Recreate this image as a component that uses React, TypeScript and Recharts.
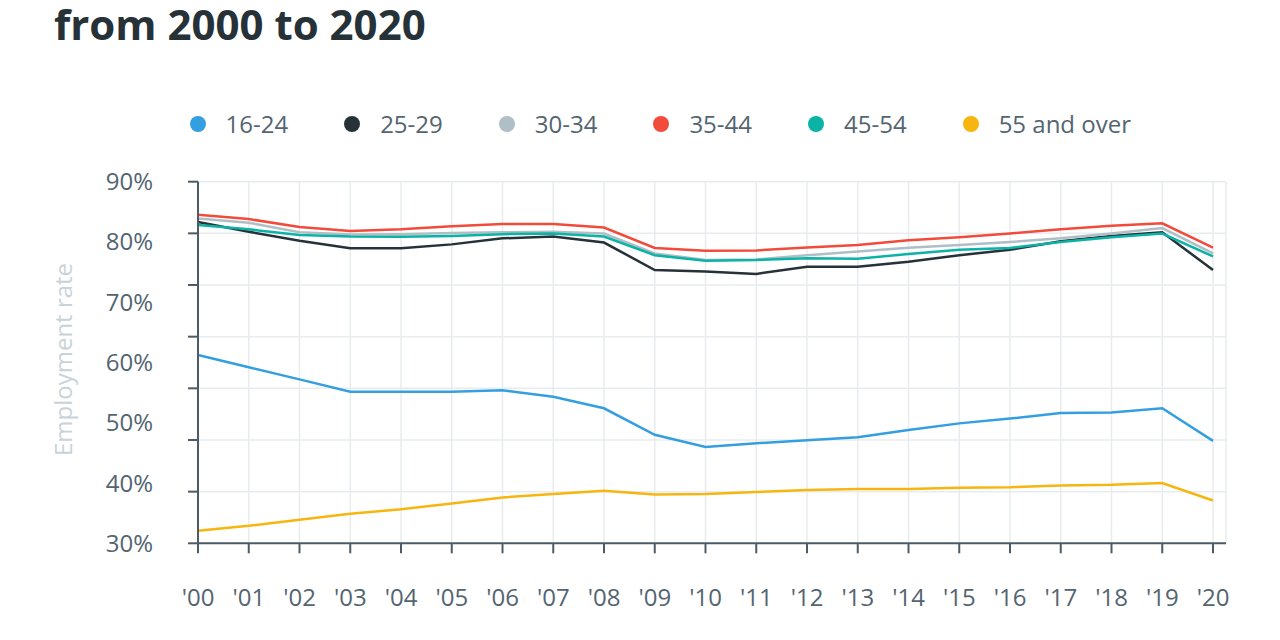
import React from 'react';
import { LineChart, Line, XAxis, YAxis, CartesianGrid, Legend } from 'recharts';

const years = ["'00", "'01", "'02", "'03", "'04", "'05", "'06", "'07", "'08", "'09", "'10", "'11", "'12", "'13", "'14", "'15", "'16", "'17", "'18", "'19", "'20"];

const age16to24 = [61.25, 59.2, 57.2, 55.15, 55.15, 55.15, 55.4, 54.3, 52.4, 48.0, 46.0, 46.6, 47.1, 47.6, 48.8, 49.9, 50.7, 51.6, 51.7, 52.4, 47.0];
const age25to29 = [83.3, 81.7, 80.2, 78.95, 78.95, 79.6, 80.6, 80.9, 79.9, 75.35, 75.1, 74.7, 75.9, 75.9, 76.7, 77.8, 78.7, 80.1, 81.0, 81.6, 75.35];
const age30to34 = [83.9, 83.2, 81.6, 81.25, 81.3, 81.5, 81.6, 81.7, 81.4, 78.1, 77.0, 77.1, 77.8, 78.4, 79.05, 79.5, 80.0, 80.6, 81.4, 82.3, 78.1];
const age35to44 = [84.5, 83.8, 82.5, 81.8, 82.1, 82.6, 83.0, 83.0, 82.4, 79.0, 78.55, 78.6, 79.1, 79.5, 80.3, 80.8, 81.4, 82.1, 82.7, 83.1, 79.05];
const age45to54 = [82.8, 82.1, 81.15, 80.9, 80.85, 81.0, 81.3, 81.4, 80.9, 77.8, 76.9, 77.0, 77.3, 77.2, 78.0, 78.7, 79.0, 80.0, 80.8, 81.4, 77.6];
const age55over = [32.1, 32.9, 33.9, 34.9, 35.65, 36.6, 37.6, 38.2, 38.7, 38.1, 38.2, 38.5, 38.85, 39.0, 39.0, 39.2, 39.3, 39.6, 39.7, 40.0, 37.1];

const seriesNames = ['16-24', '25-29', '30-34', '35-44', '45-54', '55 and over'];
const seriesValues = [age16to24, age25to29, age30to34, age35to44, age45to54, age55over];
const seriesColors = ['#349fe0', '#263238', '#b0bec5', '#f24b3b', '#0ab3a6', '#f7b60f'];

const yTickValues = [30, 40, 50, 60, 70, 80, 90];
const gridTickValues = [30, 38.571, 47.143, 55.714, 64.286, 72.857, 81.429, 90];

const data = years.map((year, i) => {
  const row: Record<string, string | number> = { year };
  seriesNames.forEach((name, j) => {
    row[name] = seriesValues[j][i];
  });
  return row;
});

const axisColor = '#4d5b66';
const labelColor = '#536571';
const gridColor = '#e9ecee';

const LegendContent = () => (
  <div style={{ display: 'flex', alignItems: 'center', fontFamily: "'Open Sans'" }}>
    {seriesNames.map((name, i) => (
      <div key={name} style={{ display: 'flex', alignItems: 'center', marginRight: 56 }}>
        <span
          style={{
            display: 'inline-block',
            width: 16,
            height: 16,
            borderRadius: 8,
            background: seriesColors[i],
            marginRight: 20,
          }}
        />
        <span style={{ fontSize: 24, color: labelColor, whiteSpace: 'nowrap' }}>{name}</span>
      </div>
    ))}
  </div>
);

const YTitle = (props: any) => {
  const vb = props.viewBox || { y: 0, height: 0 };
  const cy = vb.y + vb.height / 2 - 3;
  return (
    <text
      x={0}
      y={0}
      transform={`translate(72, ${cy}) rotate(-90)`}
      textAnchor="middle"
      fill="#c8d3d8"
      fontSize={24}
    >
      Employment rate
    </text>
  );
};

const EmptyTick = () => <g />;

export default function App() {
  return (
    <div
      style={{
        position: 'absolute',
        left: 0,
        top: 0,
        width: 1280,
        height: 640,
        background: '#ffffff',
        fontFamily: "'Open Sans', sans-serif",
        overflow: 'hidden',
      }}
    >
      <div
        style={{
          position: 'absolute',
          left: 54,
          top: 3,
          fontSize: 42,
          lineHeight: '42px',
          fontWeight: 700,
          color: '#263238',
          whiteSpace: 'nowrap',
        }}
      >
        from 2000 to 2020
      </div>
      <LineChart
        width={1280}
        height={640}
        data={data}
        margin={{ top: 181.7, right: 54, bottom: 0, left: 0 }}
      >
        <CartesianGrid yAxisId="grid" stroke={gridColor} strokeWidth={1.5} />
        <YAxis
          yAxisId="grid"
          orientation="left"
          type="number"
          width={10}
          domain={[30, 90]}
          ticks={gridTickValues}
          interval={0}
          tick={EmptyTick}
          tickSize={10}
          tickMargin={0}
          allowDataOverflow
          axisLine={{ stroke: axisColor, strokeWidth: 2 }}
          tickLine={{ stroke: axisColor, strokeWidth: 2 }}
        />
        <YAxis
          yAxisId="pct"
          orientation="left"
          type="number"
          width={188}
          domain={[30, 90]}
          ticks={yTickValues}
          interval={0}
          allowDataOverflow
          tickFormatter={(v: number) => `${v}%`}
          axisLine={false}
          tickLine={false}
          tickSize={0}
          tickMargin={35}
          tick={{ fill: labelColor, fontSize: 24 }}
          label={{ content: YTitle }}
        />
        <XAxis
          dataKey="year"
          interval={0}
          padding={{ left: 0, right: 13 }}
          height={96.7}
          tickSize={10}
          tickMargin={36}
          axisLine={{ stroke: axisColor, strokeWidth: 2 }}
          tickLine={{ stroke: axisColor, strokeWidth: 2 }}
          tick={{ fill: labelColor, fontSize: 24 }}
        />
        <Legend
          layout="horizontal"
          verticalAlign="middle"
          align="center"
          content={LegendContent}
          wrapperStyle={{ top: 107, left: 189.5, width: 1080, height: 33 }}
        />
        {seriesNames.map((name, i) => (
          <Line
            key={name}
            yAxisId="pct"
            type="linear"
            dataKey={name}
            stroke={seriesColors[i]}
            strokeWidth={2.5}
            dot={false}
            activeDot={false}
            isAnimationActive={false}
          />
        ))}
      </LineChart>
    </div>
  );
}
